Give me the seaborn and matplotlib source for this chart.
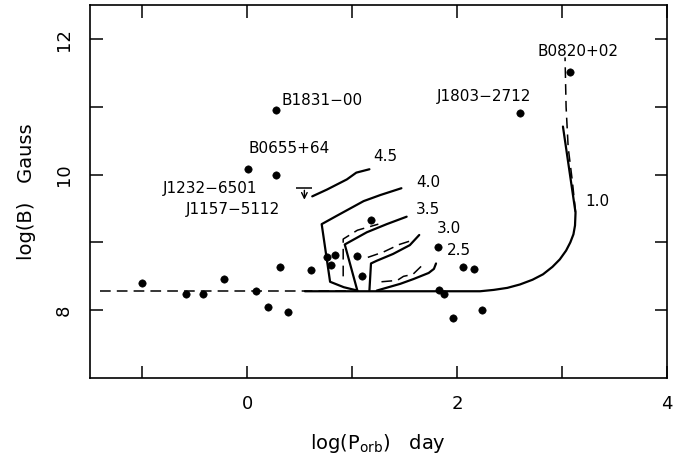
import numpy as np
import pandas as pd
import matplotlib
matplotlib.use("Agg")
from matplotlib import pyplot as plt
import seaborn as sns

# pulsars (log P_orb [day], log B [G])
psr_x = [0.01, 0.27, 1.18, 0.76, 0.835, 0.80, 1.045, 1.09, 0.31, 0.61, -0.22, -1.0,
         -0.58, -0.42, 0.08, 0.20, 0.39, 1.82, 2.06, 2.16, 1.83, 1.88, 1.965, 2.24,
         0.27, 2.6, 3.08]
psr_y = [10.08, 9.99, 9.33, 8.78, 8.82, 8.67, 8.80, 8.51, 8.64, 8.59, 8.46, 8.40,
         8.24, 8.24, 8.28, 8.05, 7.98, 8.94, 8.64, 8.61, 8.30, 8.24, 7.89, 8.00,
         10.95, 10.91, 11.51]

# upper limit
ul_x = [0.545]
ul_y = [9.81]
ul_to = [9.59]

# evolutionary tracks (solid), labelled by initial mass
trk10_x = [0.55, 1.5, 2.22, 2.35, 2.48, 2.6, 2.72, 2.82, 2.91, 2.98, 3.04, 3.08,
           3.11, 3.125, 3.13, 3.01]
trk10_y = [8.28, 8.28, 8.28, 8.30, 8.33, 8.38, 8.45, 8.53, 8.64, 8.75, 8.88, 9.0,
           9.12, 9.25, 9.44, 10.71]
trk45_x = [0.62, 0.76, 0.95, 1.04, 1.165]
trk45_y = [9.68, 9.78, 9.93, 10.03, 10.08]
trk40_x = [1.05, 0.92, 0.79, 0.71, 0.85, 1.11, 1.27, 1.47]
trk40_y = [8.29, 8.34, 8.42, 9.27, 9.39, 9.61, 9.70, 9.80]
trk35_x = [1.05, 0.93, 1.14, 1.33, 1.52]
trk35_y = [8.29, 8.97, 9.15, 9.27, 9.38]
trk30_x = [1.165, 1.18, 1.235, 1.39, 1.55, 1.64]
trk30_y = [8.29, 8.69, 8.73, 8.83, 8.96, 9.11]
trk25_x = [1.235, 1.46, 1.585, 1.73, 1.78, 1.80]
trk25_y = [8.29, 8.39, 8.46, 8.55, 8.61, 8.69]

# dashed companions
dash_base_x = [-1.4, 1.0]
dash_base_y = [8.28, 8.28]
dash10_x = [3.13, 3.10, 3.06, 3.04, 3.03]
dash10_y = [9.45, 9.90, 10.40, 11.0, 11.73]
dash35_x = [0.915, 0.915, 1.05, 1.25]
dash35_y = [8.50, 9.05, 9.18, 9.27]
dash30_x = [1.15, 1.3, 1.45, 1.55]
dash30_y = [8.78, 8.86, 8.97, 9.02]
dash25_x = [1.28, 1.43, 1.49, 1.58, 1.66, 1.70]
dash25_y = [8.42, 8.44, 8.50, 8.53, 8.65, 8.68]

names = ["B0820+02", "J1803\u22122712", "B1831\u221200", "B0655+64",
         "J1232\u22126501", "J1157\u22125112"]
name_x = [2.77, 1.81, 0.33, 0.01, -0.8, -0.59]
name_y = [11.82, 11.16, 11.1, 10.38, 9.79, 9.49]
masses = ["4.5", "4.0", "3.5", "3.0", "2.5", "1.0"]
mass_x = [1.2, 1.61, 1.61, 1.81, 1.9, 3.22]
mass_y = [10.27, 9.89, 9.48, 9.2, 8.88, 9.6]

sns.set_style("ticks")
plt.rcParams["font.family"] = ["DejaVu Sans"]
plt.rcParams["axes.linewidth"] = 1.2
plt.rcParams["text.color"] = "black"
plt.rcParams["axes.labelcolor"] = "black"
plt.rcParams["axes.edgecolor"] = "black"
plt.rcParams["xtick.color"] = "black"
plt.rcParams["ytick.color"] = "black"

fig = plt.figure(figsize=(6.86, 4.74), dpi=100)
ax = fig.add_axes([0.131, 0.2025, 0.841, 0.7865])

lw = 1.6
for tx, ty in [(trk10_x, trk10_y), (trk45_x, trk45_y), (trk40_x, trk40_y),
               (trk35_x, trk35_y), (trk30_x, trk30_y), (trk25_x, trk25_y)]:
    sns.lineplot(x=tx, y=ty, sort=False, estimator=None, color="black", lw=lw, ax=ax)
for tx, ty in [(dash_base_x, dash_base_y), (dash10_x, dash10_y), (dash35_x, dash35_y),
               (dash30_x, dash30_y), (dash25_x, dash25_y)]:
    sns.lineplot(x=tx, y=ty, sort=False, estimator=None, color="black", lw=1.1,
                 dashes=False, linestyle=(0, (7, 4)), ax=ax)

sns.scatterplot(x=psr_x, y=psr_y, color="black", s=28, edgecolor="black", ax=ax)

# upper limit marker
sns.scatterplot(x=ul_x, y=ul_y, marker="_", s=120, color="black", linewidth=1.1, ax=ax)
for x0, y0, y1 in zip(ul_x, ul_y, ul_to):
    ax.annotate("", xy=(x0, y1), xytext=(x0, y0),
                arrowprops=dict(arrowstyle="->", lw=1.0, color="black"))

for t, x0, y0 in zip(names, name_x, name_y):
    ax.text(x0, y0, t, fontsize=11, va="center", ha="left")
for t, x0, y0 in zip(masses, mass_x, mass_y):
    ax.text(x0, y0, t, fontsize=11, va="center", ha="left")

ax.set_xlim(-1.5, 4)
ax.set_ylim(7, 12.5)
ax.set_xticks([0, 2, 4])
ax.set_xticks([-1, 1, 3], minor=True)
ax.set_yticks([8, 10, 12])
ax.set_yticks([9, 11], minor=True)
ax.tick_params(which="both", direction="in", length=9, width=1.1,
               top=True, right=True, labelsize=13, pad=12)
ax.set_yticklabels(["8", "10", "12"], rotation=90, va="center")
ax.set_xlabel(r"log(P$_{\rm orb}$)   day", fontsize=14, labelpad=14)
ax.set_ylabel("log(B)   Gauss", fontsize=14, labelpad=14)

fig.savefig("out.png", dpi=100)
